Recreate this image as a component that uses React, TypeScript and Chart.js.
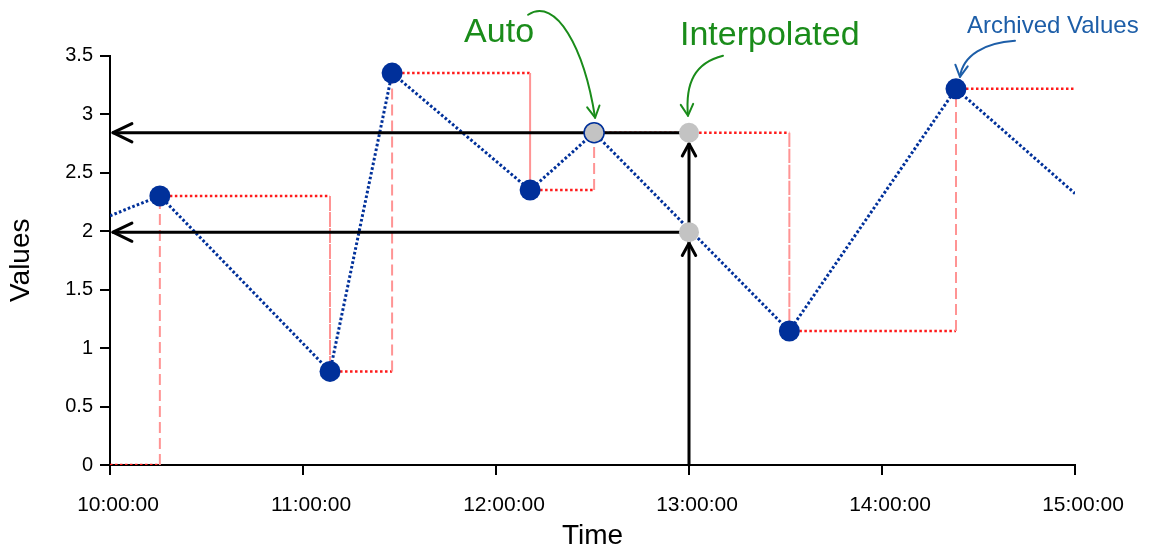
import React, { useEffect, useRef } from "react";
import { Chart, registerables } from "chart.js";

Chart.register(...registerables);

// Time is expressed in minutes after 10:00:00
const xTickMinutes = [0, 60, 120, 180, 240, 300];
const xTickLabels = ["10:00:00", "11:00:00", "12:00:00", "13:00:00", "14:00:00", "15:00:00"];

const archivedTimes = [15.5, 68.4, 87.7, 130.6, 211.2, 263.0];
const archivedValues = [2.3, 0.8, 3.35, 2.35, 1.145, 3.215];

const autoTimes = [150.5];
const autoValues = [2.84];

const interpolatedTimes = [180, 180];
const interpolatedValues = [2.84, 1.99];

const boundaryTimes = [0, 300];
const boundaryValues = [2.13, 2.32];

const stepInitialValue = 0;

const yMin = 0;
const yMax = 3.5;
const yStep = 0.5;

const FONT = '"Liberation Sans", Arial, Helvetica, sans-serif';
const NAVY = "#00309a";
const GREY = "#c3c3c3";
const GREEN = "#1a8c1a";
const ANNOT_BLUE = "#1d5ea8";

type P = { x: number; y: number };

function buildBlueLine(): P[] {
  const pts: P[] = [];
  boundaryTimes.forEach((t, i) => pts.push({ x: t, y: boundaryValues[i] }));
  archivedTimes.forEach((t, i) => pts.push({ x: t, y: archivedValues[i] }));
  autoTimes.forEach((t, i) => pts.push({ x: t, y: autoValues[i] }));
  return pts.sort((a, b) => a.x - b.x);
}

function buildStep(): P[] {
  const src: P[] = [];
  archivedTimes.forEach((t, i) => src.push({ x: t, y: archivedValues[i] }));
  autoTimes.forEach((t, i) => src.push({ x: t, y: autoValues[i] }));
  src.sort((a, b) => a.x - b.x);
  const out: P[] = [{ x: boundaryTimes[0], y: stepInitialValue }];
  let prev = stepInitialValue;
  src.forEach((p) => {
    out.push({ x: p.x, y: prev });
    out.push({ x: p.x, y: p.y });
    prev = p.y;
  });
  out.push({ x: boundaryTimes[1], y: prev });
  return out;
}

function buildGrey(): P[] {
  const pts: P[] = [];
  autoTimes.forEach((t, i) => pts.push({ x: t, y: autoValues[i] }));
  interpolatedTimes.forEach((t, i) => pts.push({ x: t, y: interpolatedValues[i] }));
  return pts;
}

function arrowHead(ctx: CanvasRenderingContext2D, tx: number, ty: number, angle: number, len: number, spread: number) {
  ctx.beginPath();
  ctx.moveTo(tx - len * Math.cos(angle - spread), ty - len * Math.sin(angle - spread));
  ctx.lineTo(tx, ty);
  ctx.lineTo(tx - len * Math.cos(angle + spread), ty - len * Math.sin(angle + spread));
  ctx.stroke();
}

function curvedArrow(ctx: CanvasRenderingContext2D, pts: number[][], color: string) {
  const [p0, p1, p2, p3] = pts;
  ctx.save();
  ctx.strokeStyle = color;
  ctx.lineWidth = 2;
  ctx.lineCap = "round";
  ctx.lineJoin = "round";
  ctx.beginPath();
  ctx.moveTo(p0[0], p0[1]);
  ctx.bezierCurveTo(p1[0], p1[1], p2[0], p2[1], p3[0], p3[1]);
  ctx.stroke();
  const ang = Math.atan2(p3[1] - p2[1], p3[0] - p2[0]);
  arrowHead(ctx, p3[0], p3[1], ang, 13, 0.5);
  ctx.restore();
}

const GREY_INDEX = 2;

const overlayPlugin = {
  id: "overlay",
  beforeDatasetDraw(chart: any, args: any) {
    if (args.index !== GREY_INDEX) return;
    const { ctx, scales } = chart;
    const xs = scales.x;
    const ys = scales.y;
    const x0 = xs.getPixelForValue(xTickMinutes[0]);
    const ix = xs.getPixelForValue(interpolatedTimes[0]);
    const yBase = ys.getPixelForValue(0);
    ctx.save();
    ctx.strokeStyle = "#000";
    ctx.lineWidth = 3;
    ctx.lineCap = "round";
    ctx.lineJoin = "round";
    // horizontal arrows to the value axis
    interpolatedValues.forEach((v) => {
      const py = ys.getPixelForValue(v);
      const tip = x0 + 3;
      ctx.beginPath();
      ctx.moveTo(ix, py);
      ctx.lineTo(tip, py);
      ctx.stroke();
      arrowHead(ctx, tip, py, Math.PI, 21, 0.45);
    });
    // vertical arrows from the time axis
    const topV = Math.max(...interpolatedValues);
    const topY = ys.getPixelForValue(topV) + 11;
    ctx.beginPath();
    ctx.moveTo(ix, yBase);
    ctx.lineTo(ix, topY);
    ctx.stroke();
    interpolatedValues.forEach((v) => {
      const ty = ys.getPixelForValue(v) + 11;
      arrowHead(ctx, ix, ty, -Math.PI / 2, 14, 0.5);
    });
    ctx.restore();
  },
  afterDraw(chart: any) {
    const { ctx, scales } = chart;
    const xs = scales.x;
    const ys = scales.y;
    ctx.save();
    ctx.textAlign = "left";
    ctx.textBaseline = "alphabetic";

    // Auto
    const ax = xs.getPixelForValue(autoTimes[0]);
    const ay = ys.getPixelForValue(autoValues[0]);
    ctx.fillStyle = GREEN;
    ctx.font = `34px ${FONT}`;
    ctx.fillText("Auto", ax - 130, ay - 91);
    curvedArrow(
      ctx,
      [
        [ax - 66, ay - 118],
        [ax - 38, ay - 136],
        [ax - 10, ay - 85],
        [ax + 1, ay - 15],
      ],
      GREEN
    );

    // Interpolated
    const ix = xs.getPixelForValue(interpolatedTimes[0]);
    const iy = ys.getPixelForValue(interpolatedValues[0]);
    ctx.fillStyle = GREEN;
    ctx.font = `34px ${FONT}`;
    ctx.fillText("Interpolated", ix - 9, iy - 88);
    curvedArrow(
      ctx,
      [
        [ix + 34, iy - 77],
        [ix + 6, iy - 70],
        [ix - 4, iy - 50],
        [ix - 1, iy - 17],
      ],
      GREEN
    );

    // Archived Values
    const last = archivedTimes.length - 1;
    const px = xs.getPixelForValue(archivedTimes[last]);
    const py = ys.getPixelForValue(archivedValues[last]);
    ctx.fillStyle = ANNOT_BLUE;
    ctx.font = `24px ${FONT}`;
    ctx.fillText("Archived Values", px + 11, py - 56);
    curvedArrow(
      ctx,
      [
        [px + 59, py - 48],
        [px + 29, py - 46],
        [px + 7, py - 34],
        [px + 4, py - 12],
      ],
      ANNOT_BLUE
    );
    ctx.restore();
  },
};

export default function App() {
  const canvasRef = useRef<HTMLCanvasElement | null>(null);

  useEffect(() => {
    const canvas = canvasRef.current;
    if (!canvas) return;
    const blue = buildBlueLine();
    const step = buildStep();
    const grey = buildGrey();
    const lastBlue = blue.length - 1;
    const autoSet = new Set(autoTimes);

    const chart = new Chart(canvas, {
      type: "line",
      data: {
        datasets: [
          {
            label: "Step",
            data: step,
            order: 3,
            borderWidth: 2.5,
            borderColor: "#ff1a1a",
            pointRadius: 0,
            fill: false,
            tension: 0,
            segment: {
              borderColor: (c: any) => (c.p0.parsed.y === c.p1.parsed.y ? "#ff1a1a" : "#ff9494"),
              borderDash: (c: any) => (c.p0.parsed.y === c.p1.parsed.y ? [2.5, 2.5] : [11, 5]),
              borderWidth: (c: any) => (c.p0.parsed.y === c.p1.parsed.y ? 2.5 : 2),
            },
          } as any,
          {
            label: "Archived",
            data: blue,
            order: 2,
            borderColor: NAVY,
            borderWidth: 3,
            borderDash: [2.6, 2.2],
            backgroundColor: NAVY,
            pointBackgroundColor: NAVY,
            pointBorderColor: NAVY,
            pointBorderWidth: 0,
            pointRadius: (c: any) =>
              c.dataIndex === 0 || c.dataIndex === lastBlue || autoSet.has(blue[c.dataIndex].x) ? 0 : 10.5,
            fill: false,
            tension: 0,
          } as any,
          {
            label: "Interpolated",
            data: grey,
            order: 1,
            showLine: false,
            pointBackgroundColor: GREY,
            pointBorderColor: (c: any) => (c.dataIndex < autoTimes.length ? NAVY : GREY),
            pointBorderWidth: (c: any) => (c.dataIndex < autoTimes.length ? 1.5 : 0),
            pointRadius: 10,
          } as any,
        ],
      },
      options: {
        responsive: false,
        maintainAspectRatio: false,
        animation: false,
        events: [],
        layout: { padding: { left: 0, top: 55.5, right: 86, bottom: 0 } },
        plugins: {
          legend: { display: false },
          tooltip: { enabled: false },
        },
        scales: {
          x: {
            type: "linear",
            min: xTickMinutes[0],
            max: xTickMinutes[xTickMinutes.length - 1],
            afterFit: (s: any) => {
              s.height = 87;
            },
            afterBuildTicks: (s: any) => {
              s.ticks = xTickMinutes.map((v) => ({ value: v }));
            },
            ticks: {
              color: "#000",
              font: { family: FONT, size: 21 },
              padding: 18,
              labelOffset: 8,
              maxRotation: 0,
              autoSkip: false,
              callback: (v: any) => {
                const i = xTickMinutes.indexOf(Number(v));
                return i >= 0 ? xTickLabels[i] : "";
              },
            },
            grid: {
              display: true,
              drawOnChartArea: false,
              drawTicks: true,
              tickLength: 10,
              color: "#000",
              lineWidth: 2,
            },
            border: { display: true, color: "#000", width: 2 },
            title: {
              display: true,
              text: "Time",
              color: "#000",
              font: { family: FONT, size: 28, lineHeight: 1 },
              padding: { top: 0, bottom: 2 },
            },
          },
          y: {
            type: "linear",
            min: yMin,
            max: yMax,
            afterFit: (s: any) => {
              s.width = 110;
            },
            ticks: {
              stepSize: yStep,
              color: "#000",
              font: { family: FONT, size: 20 },
              padding: 7,
              callback: (v: any) => String(Number(v)),
            },
            grid: {
              display: true,
              drawOnChartArea: false,
              drawTicks: true,
              tickLength: 10,
              color: "#000",
              lineWidth: 2,
            },
            border: { display: true, color: "#000", width: 2 },
            title: {
              display: true,
              text: "Values",
              color: "#000",
              font: { family: FONT, size: 28, lineHeight: 1 },
              padding: { top: 7, bottom: 0 },
            },
          },
        },
      } as any,
      plugins: [overlayPlugin],
    });
    return () => chart.destroy();
  }, []);

  return (
    <div style={{ position: "fixed", left: 0, top: 0, width: 1161, height: 552, background: "#fff" }}>
      <canvas ref={canvasRef} width={1161} height={552} style={{ display: "block", width: 1161, height: 552 }} />
    </div>
  );
}
